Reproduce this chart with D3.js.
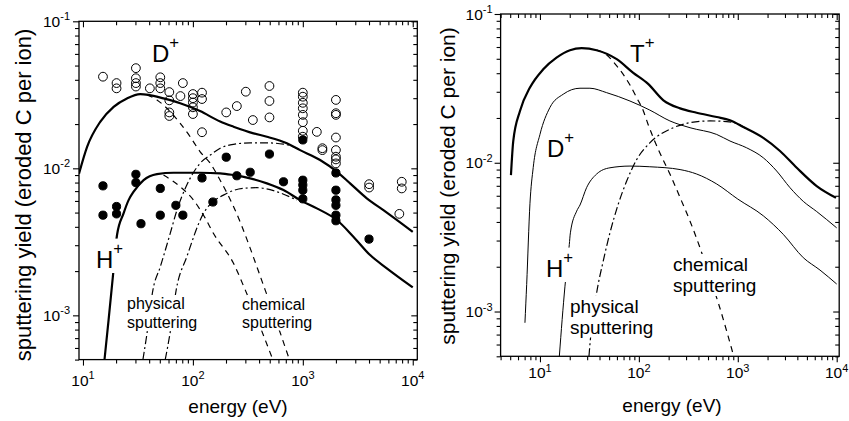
<!DOCTYPE html>
<html>
<head>
<meta charset="utf-8">
<script src="https://cdn.jsdelivr.net/npm/d3@7"></script>
<style>
  body { margin: 0; background: #fff; }
  svg { display: block; }
</style>
</head>
<body>
<svg id="chart" width="849" height="421"></svg>
<script>
// ---------- axis ticks ----------
const energyTicks = [10, 100, 1000, 10000];
const yieldTicks = [1e-3, 1e-2, 1e-1];
const yieldDomain = [5e-4, 0.1];

// ---------- left panel: measured yields [energy eV, yield] ----------
// D+ on carbon (open symbols)
const dMeasured = [
  [15.2, 0.042], [20.2, 0.038], [20.2, 0.035],
  [30.3, 0.048], [30.3, 0.041], [30.3, 0.038], [30.3, 0.036],
  [40.6, 0.035], [50.5, 0.0416], [50.5, 0.038], [50.5, 0.035],
  [61, 0.033], [61, 0.029], [61, 0.024], [61, 0.0227],
  [77, 0.031], [81, 0.038],
  [100, 0.032], [100, 0.030], [100, 0.028], [100, 0.026], [100, 0.0234],
  [121, 0.0327], [121, 0.0296], [121, 0.0176],
  [201, 0.024], [251, 0.0265], [303, 0.0332], [351, 0.0213],
  [497, 0.0363], [497, 0.0287], [497, 0.0222],
  [1000, 0.0327], [1000, 0.0307], [1000, 0.0279], [1000, 0.0256],
  [1000, 0.0231], [1000, 0.0206], [1000, 0.018], [1000, 0.0164],
  [1341, 0.0177], [1507, 0.0137], [1507, 0.0133],
  [2000, 0.0292], [2000, 0.0237], [2000, 0.0231], [2000, 0.0162],
  [2000, 0.0133], [2000, 0.012], [2000, 0.0115], [2000, 0.0108],
  [4010, 0.0078], [4010, 0.0074],
  [7943, 0.0081], [7943, 0.0073], [7550, 0.0049]
];
// H+ on carbon (filled symbols)
const hMeasured = [
  [15.2, 0.0076], [15.2, 0.0048], [20.2, 0.0055], [20.2, 0.0049],
  [30.3, 0.0091], [30.3, 0.0080], [33.7, 0.0042],
  [50.5, 0.0073], [50.5, 0.0048], [70, 0.0056], [81, 0.0048],
  [121, 0.0086], [152, 0.0059], [201, 0.0119], [251, 0.0089],
  [332, 0.0094], [497, 0.0125], [667, 0.0081],
  [1000, 0.0156], [1000, 0.0083], [1000, 0.0077], [1000, 0.0071], [1000, 0.0062],
  [2000, 0.0093], [2000, 0.0071], [2000, 0.0061], [2000, 0.0056],
  [2000, 0.0048], [2000, 0.0044],
  [4000, 0.0033]
];

// ---------- left panel: model curves ----------
const dTotalL = [
  [9.2, 0.0092], [10.9, 0.0140], [14.4, 0.0208], [19.0, 0.0262], [25.1, 0.0299],
  [33.2, 0.0320], [39.5, 0.0316], [54, 0.0299], [76.7, 0.0277], [116, 0.0245],
  [177, 0.0208], [234, 0.0192], [356, 0.0173], [471, 0.0164], [716, 0.0148],
  [944, 0.0133], [1435, 0.0114], [2037, 0.0095], [2690, 0.0079], [3818, 0.00625],
  [5407, 0.0052], [10000, 0.0037]
];
const hTotalL = [
  [15.7, 0.0005], [17.1, 0.00093], [18.7, 0.00183], [20.4, 0.00352], [23.4, 0.00494],
  [26, 0.00608], [28.9, 0.00693], [35.6, 0.00832], [47.1, 0.00914], [66.7, 0.00933],
  [116, 0.00933], [177, 0.00925], [234, 0.0090], [332, 0.00855], [471, 0.0079],
  [667, 0.00711], [944, 0.00608], [1341, 0.00534], [2037, 0.00445], [2884, 0.00343],
  [4093, 0.00257], [5808, 0.00209], [10000, 0.00155]
];
const dChemL = [
  [38.2, 0.0316], [47.1, 0.0292], [58, 0.0256], [76.7, 0.0202], [94.4, 0.0164],
  [116, 0.013], [144, 0.0108], [177, 0.0083], [204, 0.0068], [234, 0.0055],
  [454, 0.00149], [755, 0.0005]
];
const hChemL = [
  [54, 0.009], [76.7, 0.0075], [101, 0.0061], [129, 0.0046], [154, 0.0036],
  [234, 0.00226], [299, 0.00149], [533, 0.0005]
];
const dPhysL = [
  [35.1, 0.0005], [38.2, 0.00075], [43.3, 0.00149], [50.5, 0.00214], [62.2, 0.00361],
  [71.6, 0.0052], [88, 0.0077], [116, 0.0108], [144, 0.0123], [177, 0.0137],
  [234, 0.01456], [332, 0.0149], [471, 0.0149], [667, 0.0146], [881, 0.0137],
  [944, 0.0133]
];
const hPhysL = [
  [56, 0.0005], [62.2, 0.00077], [70.5, 0.00149], [88, 0.0025], [125, 0.00494],
  [204, 0.00676], [288, 0.00731], [382, 0.00738], [581, 0.00693], [881, 0.00608]
];

// ---------- right panel: model curves ----------
const tTotalR = [
  [5.09, 0.00826], [5.37, 0.014], [6.28, 0.0223], [7.92, 0.032], [10.8, 0.0425],
  [14.7, 0.0509], [20.1, 0.0571], [26.4, 0.0589], [37.4, 0.0571], [59.7, 0.0497],
  [87.1, 0.0404], [124, 0.0339], [177, 0.0263], [261, 0.0232], [384, 0.0217],
  [612, 0.0203], [834, 0.0193], [1138, 0.0174], [1811, 0.0147], [2672, 0.012],
  [3945, 0.00925], [6277, 0.00697], [9840, 0.00581]
];
const dTotalR = [
  [7.05, 0.00084], [7.34, 0.00152], [7.92, 0.0053], [8.55, 0.0093], [10, 0.0155],
  [12.6, 0.0235], [17.2, 0.0289], [25.4, 0.0317], [32, 0.0317], [47.2, 0.0296],
  [81.3, 0.026], [129, 0.0226], [206, 0.0191], [329, 0.0172], [612, 0.0155],
  [834, 0.014], [1230, 0.0126], [1811, 0.0108], [2472, 0.0088], [3373, 0.0068],
  [4597, 0.0055], [6277, 0.0047], [10000, 0.00365]
];
const hTotalR = [
  [15.7, 0.0005], [17.9, 0.00148], [19.8, 0.00282], [20.3, 0.00338], [23.5, 0.00473],
  [25.4, 0.0052], [29.6, 0.0068], [37.4, 0.0084], [51, 0.00925], [81.3, 0.0095],
  [129, 0.0094], [261, 0.0090], [384, 0.0084], [612, 0.0072], [1000, 0.0057],
  [1811, 0.0044], [2884, 0.0033], [4597, 0.0023], [6776, 0.0019], [10000, 0.00153]
];
const tChemR = [
  [37.4, 0.0571], [43.6, 0.0551], [59.7, 0.0448], [81.3, 0.0333], [95, 0.0274],
  [111, 0.0223], [124, 0.0181], [157, 0.0123], [206, 0.0084], [271, 0.0055],
  [329, 0.00405], [415, 0.00268], [524, 0.00168], [636, 0.00114], [910, 0.0005]
];
const tPhysR = [
  [31.3, 0.0005], [32, 0.0006], [37.4, 0.00133], [43.6, 0.00218], [51, 0.00338],
  [61.9, 0.00527], [75.3, 0.00753], [95, 0.0105], [129, 0.0136], [223, 0.0172],
  [329, 0.0186], [524, 0.0191], [773, 0.0189], [1051, 0.0180], [1230, 0.0168]
];

// ---------- drawing ----------
const FONT = "'Liberation Sans', Arial, Helvetica, sans-serif";
const svg = d3.select('#chart');

// 2..9 × 10^k values inside [lo, hi]
function minorTicks(lo, hi) {
  const out = [];
  for (let k = Math.floor(Math.log10(lo)); k <= Math.ceil(Math.log10(hi)); k++) {
    for (let m = 2; m <= 9; m++) {
      const v = m * Math.pow(10, k);
      if (v >= lo * 0.9999 && v <= hi * 1.0001) out.push(v);
    }
  }
  return out;
}

const STYLES = {
  thick:   { width: 2.2, dash: null },
  thin:    { width: 1.0, dash: null },
  dashed:  { width: 1.2, dash: '6,5' },
  dashdot: { width: 1.2, dash: '8,3,2,3' }
};

// "10" with a raised exponent
function powerLabel(sel, exp, fs) {
  sel.append('tspan').text('10');
  sel.append('tspan').attr('dy', -fs * 0.42).attr('font-size', Math.round(fs * 0.68)).text(String(exp));
}

function drawPanel(id, cfg) {
  const g = svg.append('g').attr('id', id);
  const x = d3.scaleLog().domain(cfg.xDomain).range([cfg.left, cfg.right]);
  const y = d3.scaleLog().domain(yieldDomain).range([cfg.bottom, cfg.top]);

  g.append('clipPath').attr('id', id + '-clip')
    .append('rect')
    .attr('x', cfg.left).attr('y', cfg.top)
    .attr('width', cfg.right - cfg.left).attr('height', cfg.bottom - cfg.top);

  const xMinor = minorTicks(cfg.xDomain[0], cfg.xDomain[1]);
  const yMinor = minorTicks(yieldDomain[0], yieldDomain[1]);
  const mk = (fn, s, vals, size) => fn(s).tickValues(vals).tickSize(size).tickSizeOuter(0).tickFormat('');
  const axes = g.append('g').attr('class', 'axes');
  // bottom and left: ticks point outward; top and right: ticks point inward
  axes.append('g').attr('transform', `translate(0,${cfg.bottom})`).call(mk(d3.axisBottom, x, energyTicks, 6));
  axes.append('g').attr('transform', `translate(0,${cfg.bottom})`).call(mk(d3.axisBottom, x, xMinor, 4));
  axes.append('g').attr('transform', `translate(0,${cfg.top})`).call(mk(d3.axisBottom, x, energyTicks, 6));
  axes.append('g').attr('transform', `translate(0,${cfg.top})`).call(mk(d3.axisBottom, x, xMinor, 4));
  axes.append('g').attr('transform', `translate(${cfg.left},0)`).call(mk(d3.axisLeft, y, yieldTicks, 6));
  axes.append('g').attr('transform', `translate(${cfg.left},0)`).call(mk(d3.axisLeft, y, yMinor, 4));
  axes.append('g').attr('transform', `translate(${cfg.right},0)`).call(mk(d3.axisLeft, y, yieldTicks, 6));
  axes.append('g').attr('transform', `translate(${cfg.right},0)`).call(mk(d3.axisLeft, y, yMinor, 4));
  axes.selectAll('.domain').remove();
  axes.selectAll('.tick text').remove();
  axes.selectAll('.tick line').attr('stroke', '#000').attr('stroke-width', 1.1);

  g.append('rect')
    .attr('x', cfg.left).attr('y', cfg.top)
    .attr('width', cfg.right - cfg.left).attr('height', cfg.bottom - cfg.top)
    .attr('fill', 'none').attr('stroke', '#000').attr('stroke-width', 1.3);

  // power-of-ten tick labels
  const fs = cfg.tickFont;
  energyTicks.forEach(v => {
    const t = g.append('text')
      .attr('x', x(v)).attr('y', cfg.bottom + cfg.xTickDy)
      .attr('text-anchor', 'middle')
      .attr('font-family', FONT).attr('font-size', fs).attr('fill', '#000');
    powerLabel(t, Math.round(Math.log10(v)), fs);
  });
  yieldTicks.forEach(v => {
    const t = g.append('text')
      .attr('x', cfg.left - cfg.yTickGap).attr('y', y(v) + fs * 0.36)
      .attr('text-anchor', 'end')
      .attr('font-family', FONT).attr('font-size', fs).attr('fill', '#000');
    powerLabel(t, Math.round(Math.log10(v)), fs);
  });

  // axis titles
  g.append('text')
    .attr('x', cfg.xTitle[0]).attr('y', cfg.xTitle[1])
    .attr('text-anchor', 'middle')
    .attr('font-family', FONT).attr('font-size', 19).attr('fill', '#000')
    .text('energy (eV)');
  g.append('text')
    .attr('transform', `translate(${cfg.yTitle[0]},${cfg.yTitle[1]}) rotate(-90)`)
    .attr('text-anchor', 'middle')
    .attr('font-family', FONT).attr('font-size', cfg.yTitle[2]).attr('fill', '#000')
    .text('sputtering yield (eroded C per ion)');

  // curves
  const line = d3.line().x(d => x(d[0])).y(d => y(d[1])).curve(d3.curveMonotoneX);
  const plot = g.append('g').attr('clip-path', `url(#${id}-clip)`);
  cfg.curves.forEach(c => {
    const st = STYLES[c.style];
    plot.append('path')
      .datum(c.data)
      .attr('d', line)
      .attr('fill', 'none')
      .attr('stroke', '#000')
      .attr('stroke-width', st.width)
      .attr('stroke-dasharray', st.dash)
      .attr('stroke-linejoin', 'round');
  });

  // measured points
  (cfg.points || []).forEach(p => {
    plot.append('g').selectAll('circle')
      .data(p.data)
      .join('circle')
      .attr('cx', d => x(d[0])).attr('cy', d => y(d[1]))
      .attr('r', p.filled ? 4.1 : 4.4)
      .attr('fill', p.filled ? '#000' : 'none')
      .attr('stroke', '#000').attr('stroke-width', 1);
  });

  // annotations, each on a white patch that interrupts the curves underneath
  cfg.labels.forEach(l => {
    const lg = g.append('g');
    const t = lg.append('text')
      .attr('font-family', FONT).attr('font-size', l.size).attr('fill', '#000');
    if (l.ion) {
      t.attr('x', l.x).attr('y', l.y);
      t.append('tspan').text(l.ion);
      t.append('tspan').attr('dy', -l.size * 0.6).attr('font-size', l.size * 0.7).text('+');
    } else {
      l.lines.forEach((s, i) => {
        t.append('tspan').attr('x', l.x).attr('y', l.y + i * l.lead).text(s);
      });
    }
    const bb = t.node().getBBox();
    lg.insert('rect', 'text')
      .attr('x', bb.x - 1).attr('y', bb.y)
      .attr('width', bb.width + 2).attr('height', bb.height)
      .attr('fill', '#fff');
  });
}

drawPanel('hydrogen-isotopes', {
  xDomain: [9.2, 11000], left: 79, right: 417.3, top: 21.3, bottom: 359.6,
  tickFont: 15.5, xTickDy: 26, yTickGap: 9,
  xTitle: [238, 413], yTitle: [31, 195, 22],
  curves: [
    { data: dChemL, style: 'dashed' }, { data: hChemL, style: 'dashed' },
    { data: dPhysL, style: 'dashdot' }, { data: hPhysL, style: 'dashdot' },
    { data: dTotalL, style: 'thick' }, { data: hTotalL, style: 'thick' }
  ],
  points: [ { data: dMeasured, filled: false }, { data: hMeasured, filled: true } ],
  labels: [
    { ion: 'D', x: 152, y: 62, size: 24 },
    { ion: 'H', x: 96, y: 268, size: 24 },
    { lines: ['physical', 'sputtering'], x: 127, y: 309, lead: 18.5, size: 16 },
    { lines: ['chemical', 'sputtering'], x: 242, y: 310, lead: 17.5, size: 16 }
  ]
});

drawPanel('tritium-comparison', {
  xDomain: [4, 10600], left: 500.6, right: 839.2, top: 14, bottom: 356.3,
  tickFont: 15.5, xTickDy: 22, yTickGap: 8,
  xTitle: [672, 411.5], yTitle: [455, 186, 21],
  curves: [
    { data: tChemR, style: 'dashed' }, { data: tPhysR, style: 'dashdot' },
    { data: dTotalR, style: 'thin' }, { data: hTotalR, style: 'thin' },
    { data: tTotalR, style: 'thick' }
  ],
  labels: [
    { ion: 'T', x: 630, y: 62, size: 24 },
    { ion: 'D', x: 547, y: 157, size: 24 },
    { ion: 'H', x: 546, y: 277, size: 24 },
    { lines: ['physical', 'sputtering'], x: 570, y: 313, lead: 20.5, size: 19 },
    { lines: ['chemical', 'sputtering'], x: 673, y: 271, lead: 21, size: 19 }
  ]
});
</script>
</body>
</html>
